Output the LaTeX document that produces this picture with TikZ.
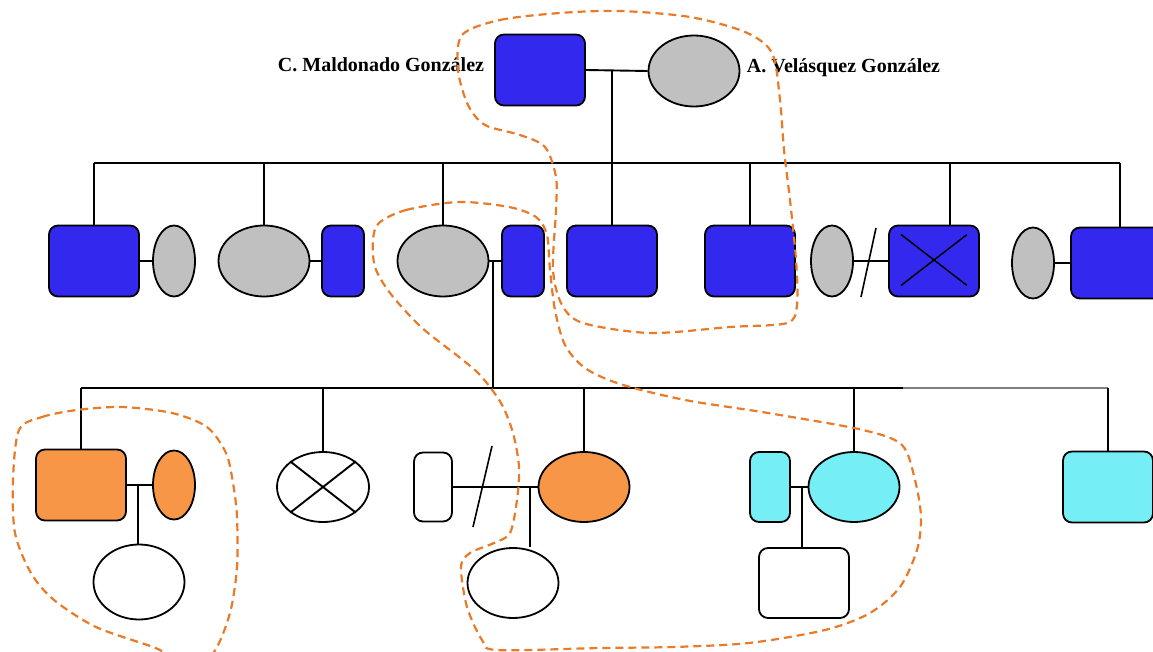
\documentclass[tikz,border=0pt]{standalone}
\usepackage{fontspec}
\setmainfont{Liberation Serif}
\usepackage{tikz}
\usetikzlibrary{shapes.geometric}

\definecolor{pblue}{RGB}{51,40,238}
\definecolor{pgrey}{RGB}{192,192,192}
\definecolor{porange}{RGB}{247,150,70}
\definecolor{pcyan}{RGB}{118,238,246}
\definecolor{hlorange}{RGB}{232,122,40}

\begin{document}
\begin{tikzpicture}[x=1pt,y=-1pt,line width=1.9pt,
  male/.style={draw,line width=1.8pt,rounded corners=9pt,minimum width=90pt,minimum height=71pt,inner sep=0pt},
  malen/.style={male,minimum width=42pt},
  female/.style={draw,line width=1.8pt,ellipse,minimum width=91pt,minimum height=71pt,inner sep=0pt},
  femalen/.style={female,minimum width=42pt},
  fblue/.style={fill=pblue},fgrey/.style={fill=pgrey},forange/.style={fill=porange},fcyan/.style={fill=pcyan},
  pname/.style={font=\bfseries\fontsize{20}{24}\selectfont,inner sep=0pt},
  hl/.style={draw=hlorange,line width=2.2pt,dash pattern=on 8pt off 5pt}]
  \clip (0,0) rectangle (1153,652);

  \node[male,fblue] (cm) at (540,70) {};\node[female,fgrey] (av) at (694,71) {};
  \node[pname,anchor=base east] (cmname) at (485,72) {C. Maldonado González};
  \node[pname,anchor=base west] (avname) at (746,73) {A. Velásquez González};

  \node[male,fblue] (a1) at (94,261) {};\node[femalen,fgrey] (a1w) at (174,261) {};
  \node[female,fgrey] (a2) at (264,261) {};\node[malen,fblue] (a2h) at (343,261) {};
  \node[female,fgrey] (a3) at (443,261) {};\node[malen,fblue] (a3h) at (523,261) {};
  \node[male,fblue] (a4) at (612,261) {};
  \node[male,fblue] (a5) at (750,261) {};
  \node[femalen,fgrey] (a6w) at (832,261) {};\node[male,fblue] (a6) at (934,261) {};
  \node[femalen,fgrey] (a7w) at (1033,263) {};\node[male,fblue,minimum width=98pt] (a7) at (1120,263) {};

  \node[male,forange] (b1) at (81,485) {};\node[femalen,forange,minimum height=69pt] (b1w) at (174,485) {};
  \node[female,minimum width=92pt,minimum height=70pt] (b2) at (323,487) {};
  \node[malen,minimum width=38pt,minimum height=69pt] (b3h) at (433,487) {};\node[female,forange,minimum height=70pt] (b3) at (584,487) {};
  \node[malen,fcyan,minimum width=40pt,minimum height=70pt] (b4h) at (770,487) {};\node[female,fcyan,minimum height=70pt] (b4) at (854,487) {};
  \node[male,fcyan] (b5) at (1108,487) {};

  \node[female,minimum height=75pt] (c1) at (139,582) {};
  \node[female,minimum height=70pt] (c2) at (513,583) {};
  \node[male,minimum height=70pt] (c3) at (804,583) {};

  \coordinate (m0) at (612,70);\coordinate (m3) at (493,261);
  \coordinate (mb1) at (138,485);\coordinate (mb3) at (530,487);\coordinate (mb4) at (802,487);
  \coordinate (d6) at (868,262);\coordinate (db3) at (482,487);
  \coordinate (s2L) at (94,163);\coordinate (s2R) at (1120,163);
  \coordinate (s3L) at (81,388);\coordinate (s3M) at (903,388);\coordinate (s3R) at (1108,388);

  \draw (cm.east) -- (av.west);
  \draw (m0) -- (m0 |- s2L);
  \draw (s2L) -- (s2R);
  \foreach \c in {a1,a2,a3,a4,a5,a7} \draw (\c.north) -- (\c.north |- s2L);
  \draw ([xshift=16pt]a6.north) -- ([xshift=16pt]a6.north |- s2L);
  \draw (a1.east) -- (a1w.west);
  \draw (a2.east) -- (a2h.west);
  \draw (a3.east) -- (a3h.west);
  \draw (a6w.east) -- (a6.west);
  \draw (a7w.east) -- (a7.west);
  \draw[line width=1.6pt] ([shift={(-7,35)}]d6) -- ([shift={(8,-34)}]d6);
  \draw[line width=1.5pt] ([shift={(13,10)}]a6.north west) -- ([shift={(-13,-12)}]a6.south east);
  \draw[line width=1.5pt] ([shift={(13,-12)}]a6.south west) -- ([shift={(-13,10)}]a6.north east);

  \draw[line width=1.3pt] (m3) -- (m3 |- s3L);
  \draw (s3L) -- (s3M);
  \draw[gray] (s3M) -- (s3R);
  \foreach \c in {b1,b2,b3,b4,b5} \draw (\c.north) -- (\c.north |- s3L);
  \draw (b1.east) -- (b1w.west);
  \draw (b3h.east) -- (b3.west);
  \draw (b4h.east) -- (b4.west);
  \draw[line width=1.6pt] ([shift={(-9,40)}]db3) -- ([shift={(10,-41)}]db3);
  \draw (b2.38) -- (b2.218);
  \draw (b2.142) -- (b2.322);
  \draw (mb1) -- (mb1 |- c1.north);
  \draw (mb3) -- (mb3 |- c2.north);
  \draw (mb4) -- (mb4 |- c3.north);

  \draw[hl] plot[smooth cycle] coordinates {(462,35) (500,20) (560,13) (620,11) (690,17) (745,32) (772,53) (780,100) (784,150) (790,200) (796,260) (797,305) (787,323) (730,327) (650,333) (583,323) (562,305) (553,270) (556,210) (556,177) (545,147) (520,135) (485,125) (468,105) (458,70)};
  \draw[hl] plot[smooth cycle] coordinates {(379,223) (406,210) (459,202) (509,207) (536,217) (547,235) (550,270) (555,310) (565,345) (585,368) (620,384) (685,400) (768,413) (863,430) (902,445) (915,480) (921,517) (917,550) (900,587) (870,613) (825,630) (749,643) (673,647) (600,648) (497,650) (482,640) (467,607) (461,567) (470,553) (494,543) (510,533) (517,500) (519,467) (513,433) (501,403) (480,375) (459,357) (421,327) (390,293) (375,267) (373,240)};
  \draw[hl] plot[smooth cycle] coordinates {(19,430) (42,417) (77,410) (122,407) (172,413) (207,427) (226,453) (233,483) (237,517) (237,567) (230,613) (214,652) (190,668) (168,655) (153,647) (96,627) (54,600) (31,573) (15,533) (13,480)};
\end{tikzpicture}
\end{document}
